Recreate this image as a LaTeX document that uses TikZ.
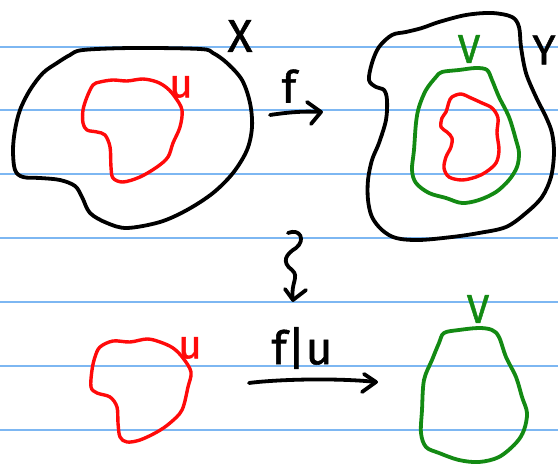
\documentclass[tikz,border=0pt]{standalone}
\usepackage{fontspec}
\setmainfont{Fira Sans}[FakeBold=1.2]
\definecolor{ruleblue}{HTML}{7DB7F2}
\definecolor{inkred}{HTML}{FF0A0A}
\definecolor{inkgreen}{HTML}{138A13}
\tikzset{
  ink/.style={line width=3.8pt, line cap=round, line join=round},
  blob/.style={ink, smooth cycle, tension=0.55},
  ruling/.style={ruleblue, line width=1.8pt},
  handlabel/.style={inner sep=0pt, font=\fontsize{#1}{#1}\selectfont},
}
\begin{document}
\begin{tikzpicture}[x=1pt, y=-1pt]
\useasboundingbox (0,0) rectangle (558,465);
\fill[white] (0,0) rectangle (558,465);
% ruled paper
\foreach \yy in {47,110,174,238,302,366,430}
  \draw[ruling] (0,\yy) -- (558,\yy);

% space X with the open set U
\draw[blob, black] plot coordinates {(83,50) (133,48) (200,49) (213,53) (227,63) (242,80) (250,103) (252,127) (247,150) (233,173) (213,193) (187,210) (160,222) (127,228) (107,223) (90,213) (82,197) (75,186) (60,180) (40,178) (23,177) (15,170) (13,150) (15,130) (20,110) (30,90) (43,73) (57,63) (70,55)};
\draw[blob, inkred, line width=3.4pt] plot coordinates {(93,85) (100,82) (113,80) (127,81) (143,79) (157,82) (167,88) (175,97) (182,110) (180,127) (173,143) (168,157) (157,167) (140,177) (123,182) (113,178) (111,167) (110,147) (105,135) (97,132) (87,130) (83,123) (83,110) (87,97)};
\node[handlabel=46] (labX) at (240,36) {X};
\node[handlabel=40, text=inkred] (labU) at (181,87) {u};

% space Y with V and the image of U
\draw[blob, black] plot coordinates {(392,35) (406,32) (422,28) (439,22) (466,15) (492,13) (512,17) (519,27) (521,47) (526,73) (536,97) (546,117) (552,133) (554,153) (551,177) (542,197) (526,213) (506,227) (479,233) (452,237) (419,240) (396,238) (382,230) (372,217) (368,200) (368,180) (372,160) (379,143) (386,120) (387,100) (384,90) (376,87) (369,80) (372,63) (379,47)};
\draw[blob, inkgreen] plot coordinates {(442,72) (459,70) (476,68) (487,70) (492,80) (499,97) (509,117) (516,140) (519,153) (517,167) (509,180) (496,192) (479,200) (462,203) (446,198) (429,193) (416,183) (412,170) (414,150) (416,123) (419,107) (426,90) (436,77)};
\draw[blob, inkred, line width=3.4pt] plot coordinates {(452,97) (461,94) (471,98) (482,103) (492,108) (498,118) (497,133) (499,150) (496,163) (486,172) (476,177) (462,180) (449,177) (444,168) (446,157) (451,147) (452,138) (447,132) (441,127) (442,118) (446,112) (449,102)};
\node[handlabel=40, text=inkgreen] (labV) at (469,49) {V};
\node[handlabel=42] (labY) at (544,50) {Y};

% map f : X -> Y
\coordinate (fs) at (270,115);
\coordinate (fe) at (321,112);
\draw[ink] (fs) .. controls (290,112) and (305,111) .. (fe);
\draw[ink] (307,102) -- (fe) -- (311,124);
\node[handlabel=44] (labf) at (289,86) {f};

% squiggle: passing to the restriction
\coordinate (ss) at (288,233);
\coordinate (se) at (293,300);
\draw[ink] (ss) .. controls (300,228) and (306,240) .. (296,248)
  .. controls (286,254) and (281,262) .. (292,270)
  .. controls (300,277) and (290,283) .. (se);
\draw[ink] (285,289) -- (se) -- (306,290);

% bottom row: U --f|u--> V
\draw[blob, inkred, line width=3.4pt] plot coordinates {(100,347) (113,341) (130,342) (147,339) (160,342) (173,348) (183,358) (191,372) (188,387) (182,410) (170,423) (157,432) (140,440) (127,442) (120,437) (118,423) (117,407) (110,397) (97,393) (91,387) (92,370) (95,357)};
\node[handlabel=40, text=inkred] (labU2) at (190,348) {u};

\draw[blob, inkgreen] plot coordinates {(444,333) (459,330) (479,328) (492,330) (499,337) (506,357) (516,377) (522,397) (527,413) (524,430) (516,443) (499,457) (479,462) (459,460) (439,453) (426,447) (421,433) (422,410) (424,380) (432,360) (439,343)};
\node[handlabel=40, text=inkgreen] (labV2) at (478,309) {V};

\coordinate (rs) at (249,383);
\coordinate (re) at (376,382);
\draw[ink] (rs) .. controls (280,379) and (340,378) .. (re);
\draw[ink] (364,374) -- (re) -- (362,392);
\node[handlabel=46] (labfu) at (302,348) {f|u};
\end{tikzpicture}
\end{document}
